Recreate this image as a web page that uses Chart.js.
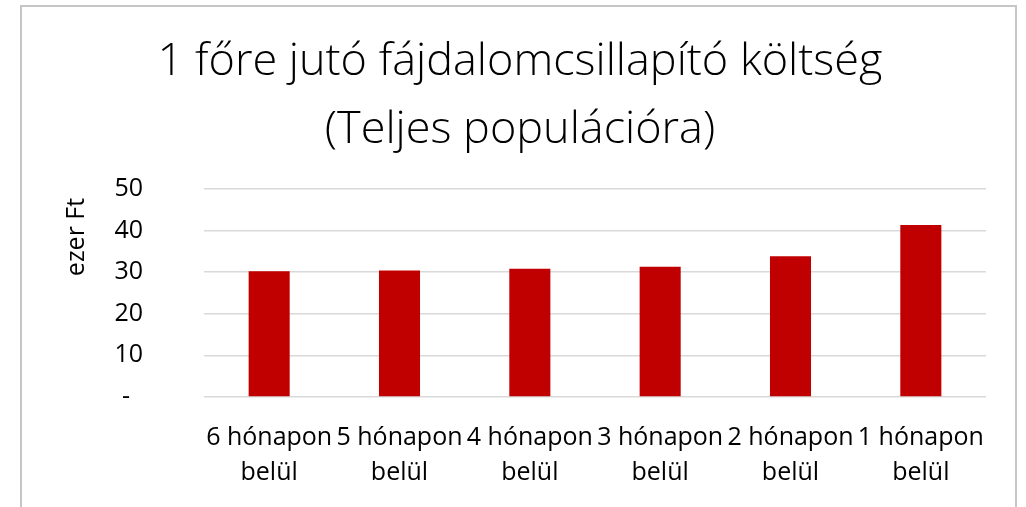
<!DOCTYPE html>
<html>
<head>
<meta charset="utf-8">
<script src="https://cdn.jsdelivr.net/npm/chart.js@4/dist/chart.umd.min.js"></script>
<style>
  html, body { margin: 0; padding: 0; background: #fff; overflow: hidden; }
  #wrap { position: relative; width: 1026px; height: 507px; }
  #frame { position: absolute; left: 20px; top: 5px; width: 993px; height: 520px;
           border: 2px solid #c6c6c6; border-bottom: none; pointer-events: none; }
  canvas { position: absolute; left: 0; top: 0; }
</style>
</head>
<body>
<div id="wrap">
  <canvas id="myChart" width="1026" height="507"></canvas>
  <div id="frame"></div>
</div>
<script>
// chart data
const titleLines = ['1 főre jutó fájdalomcsillapító költség', '(Teljes populációra)'];
const axisTitle = 'ezer Ft';
const categories = [
    ['6 hónapon', 'belül'],
    ['5 hónapon', 'belül'],
    ['4 hónapon', 'belül'],
    ['3 hónapon', 'belül'],
    ['2 hónapon', 'belül'],
    ['1 hónapon', 'belül']
];
const costValues = [30.2, 30.4, 30.8, 31.3, 33.8, 41.3];
const yTicks = [0, 10, 20, 30, 40, 50];

const fontName = "'Open Sans', 'Noto Sans', sans-serif";

// rotated y axis title
const axisTitlePlugin = {
    id: 'axisTitle',
    afterDraw(chart) {
        const ctx = chart.ctx;
        ctx.save();
        ctx.translate(77, 237);
        ctx.rotate(-Math.PI / 2);
        ctx.font = '25px ' + fontName;
        ctx.fillStyle = '#000';
        ctx.textAlign = 'center';
        ctx.textBaseline = 'middle';
        ctx.fillText(axisTitle, 0, 0);
        ctx.restore();
    }
};

const ctx = document.getElementById('myChart').getContext('2d');
const myChart = new Chart(ctx, {
    type: 'bar',
    data: {
        labels: categories,
        datasets: [{
            label: axisTitle,
            data: costValues,
            backgroundColor: '#c00000',
            borderWidth: 0,
            categoryPercentage: 1,
            barPercentage: 0.315
        }]
    },
    options: {
        responsive: false,
        animation: false,
        layout: { padding: { left: 54, right: 40, top: 0, bottom: 0 } },
        plugins: {
            legend: { display: false },
            tooltip: { enabled: false },
            title: {
                display: true,
                text: titleLines,
                color: '#000',
                font: { family: fontName, size: 45, weight: 300, lineHeight: 1.52 },
                padding: { top: 28, bottom: 24 }
            }
        },
        scales: {
            x: {
                afterFit(scale) { scale.height = 110; },
                grid: { display: false },
                border: { display: false },
                ticks: {
                    color: '#000',
                    font: { family: fontName, size: 25, lineHeight: 1.4 },
                    padding: 15,
                    maxRotation: 0,
                    minRotation: 0,
                    autoSkip: false
                }
            },
            y: {
                min: 0,
                max: 50,
                afterFit(scale) { scale.width = 150; },
                afterBuildTicks(scale) { scale.ticks = yTicks.map(v => ({ value: v })); },
                grid: { color: '#d9d9d9', lineWidth: 1.5, drawTicks: false },
                border: { display: false },
                ticks: {
                    color: '#000',
                    font: { family: fontName, size: 25 },
                    padding: 61,
                    callback: v => v === 0 ? '-  ' : v
                }
            }
        }
    },
    plugins: [axisTitlePlugin]
});
</script>
</body>
</html>
